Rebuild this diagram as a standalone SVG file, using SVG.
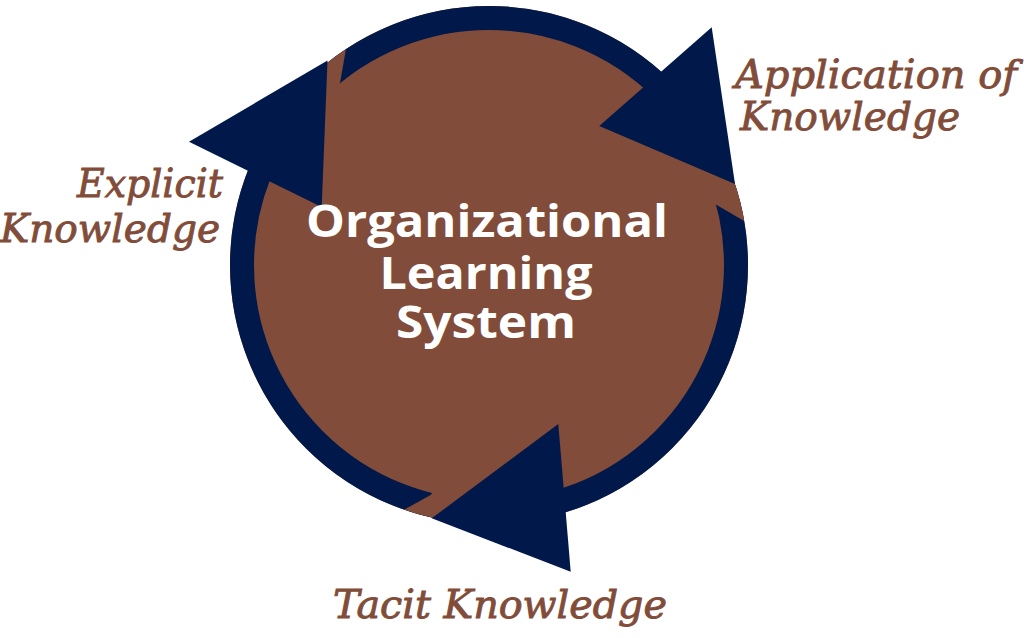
<svg xmlns="http://www.w3.org/2000/svg" width="1024" height="638" viewBox="0 0 1024 638">
<style>
.disk{fill:#814C39}
.ring{fill:none;stroke:#00194A;stroke-width:24}
.gap{fill:#814C39}
.head{fill:#00194A}
.center{font-family:"Open Sans","DejaVu Sans",sans-serif;font-weight:700;font-size:44px;fill:#ffffff;text-anchor:middle}
.label{font-family:"DejaVu Serif","Liberation Serif",serif;font-style:italic;font-size:39px;fill:#814C39;stroke:#814C39;stroke-width:0.9px}
</style>
<defs>
<clipPath id="outer"><circle cx="489" cy="265" r="259"/></clipPath>
</defs>
<rect width="1024" height="638" fill="#ffffff"/>
<g id="cycle">
<circle class="disk" cx="489" cy="265" r="259"/>
<circle class="ring" cx="489" cy="265" r="247"/>
<g clip-path="url(#outer)">
<polygon class="gap" points="340,83 352,15 322,15 322,110"/>
<polygon class="gap" points="716.7,205 775,239 790,160 700,150 690,190"/>
<polygon class="gap" points="430.7,495 380,523 440,545 480,500 450,470"/>
</g>
</g>
<g id="connectors">
<polygon id="arrow-explicit" class="head" points="189,141.7 327.5,60.5 321.7,207"/>
<polygon id="arrow-application" class="head" points="711.7,27.3 599.3,126 735,184"/>
<polygon id="arrow-tacit" class="head" points="558.3,424 431.7,518.3 570.7,571.7"/>
</g>
<g id="node-center">
<text class="center" x="487" y="237" textLength="362" lengthAdjust="spacingAndGlyphs">Organizational</text>
<text class="center" x="486" y="289" textLength="213" lengthAdjust="spacingAndGlyphs">Learning</text>
<text class="center" x="486" y="338" textLength="180" lengthAdjust="spacingAndGlyphs">System</text>
</g>
<g id="node-application">
<text class="label" x="735" y="88" textLength="282" lengthAdjust="spacingAndGlyphs">Application of</text>
<text class="label" x="740" y="130" textLength="220" lengthAdjust="spacingAndGlyphs">Knowledge</text>
</g>
<g id="node-explicit">
<text class="label" x="77" y="197" textLength="146" lengthAdjust="spacingAndGlyphs">Explicit</text>
<text class="label" x="0" y="242" textLength="220" lengthAdjust="spacingAndGlyphs">Knowledge</text>
</g>
<g id="node-tacit">
<text class="label" x="333" y="618" textLength="334" lengthAdjust="spacingAndGlyphs">Tacit Knowledge</text>
</g>
</svg>
